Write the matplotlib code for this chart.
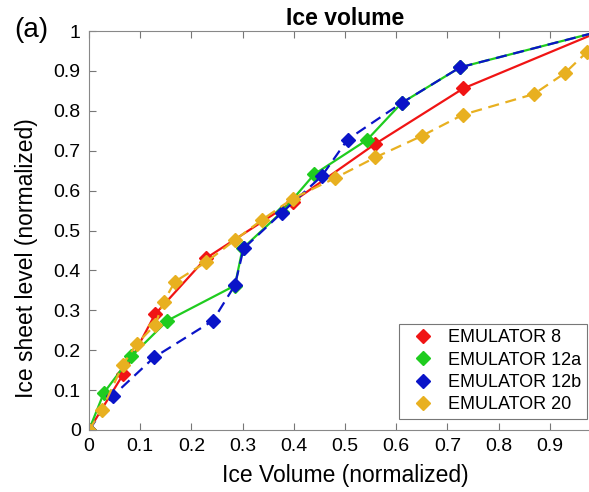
import matplotlib
matplotlib.use("Agg")
import matplotlib.pyplot as plt
from matplotlib.lines import Line2D

plt.rcParams["font.family"] = ["Liberation Sans", "DejaVu Sans"]

# values
em8_x = [0, 0.067, 0.129, 0.228, 0.398, 0.559, 0.731, 1.0]
em8_y = [0, 0.140, 0.290, 0.430, 0.572, 0.717, 0.856, 1.0]

em12a_x = [0, 0.029, 0.083, 0.153, 0.285, 0.300, 0.377, 0.440, 0.543, 0.611, 0.725, 1.0]
em12a_y = [0, 0.093, 0.185, 0.274, 0.362, 0.455, 0.547, 0.641, 0.727, 0.820, 0.909, 1.0]

em12b_x = [0, 0.047, 0.127, 0.242, 0.285, 0.302, 0.377, 0.455, 0.505, 0.611, 0.725, 1.0]
em12b_y = [0, 0.086, 0.182, 0.274, 0.363, 0.455, 0.545, 0.637, 0.728, 0.820, 0.909, 1.0]

em20_x = [0, 0.025, 0.066, 0.093, 0.129, 0.146, 0.168, 0.228, 0.285, 0.337,
          0.398, 0.480, 0.559, 0.650, 0.730, 0.869, 0.929, 0.973, 1.0]
em20_y = [0, 0.050, 0.163, 0.216, 0.263, 0.322, 0.372, 0.420, 0.476, 0.526,
          0.580, 0.631, 0.683, 0.737, 0.790, 0.842, 0.894, 0.948, 1.0]

series = [
    ("EMULATOR 8", em8_x, em8_y, "#f01414", "-"),
    ("EMULATOR 12a", em12a_x, em12a_y, "#1fcc1f", "-"),
    ("EMULATOR 12b", em12b_x, em12b_y, "#0a14c8", "--"),
    ("EMULATOR 20", em20_x, em20_y, "#e8b020", "--"),
]

fig = plt.figure(figsize=(5.89, 4.92), dpi=100)
# the original panel is cropped on the right, so the axes runs past the edge
ax = fig.add_axes([89 / 589, 62 / 492, 512 / 589, 399 / 492])

for lab, x, y, col, ls in series:
    ax.plot(x, y, ls, color=col, lw=1.6, marker="D", ms=7, mec=col, mfc=col,
            dashes=(5, 3) if ls == "--" else (None, None))

ax.set_xlim(0, 1)
ax.set_ylim(0, 1)
xticks = [i / 10 for i in range(10)]   # the "1" label lies beyond the crop
yticks = [i / 10 for i in range(11)]
ax.set_xticks(xticks)
ax.set_xticklabels(["0"] + [f"0.{i}" for i in range(1, 10)])
ax.set_yticks(yticks)
ax.set_yticklabels(["0"] + [f"0.{i}" for i in range(1, 10)] + ["1"])
ax.tick_params(direction="in", length=5, width=0.8, color="#777777",
               labelsize=14, top=True, right=False, pad=6)
for s in ["left", "bottom", "top"]:
    ax.spines[s].set_color("#888888")
    ax.spines[s].set_linewidth(0.8)
ax.spines["right"].set_visible(False)

ax.set_xlabel("Ice Volume (normalized)", fontsize=16.5, labelpad=6)
ax.set_ylabel("Ice sheet level (normalized)", fontsize=16.5)
ax.yaxis.set_label_coords(-(89 - 38) / 512, 0.43)
ax.set_title("Ice volume", fontsize=16.5, fontweight="bold", pad=4)
fig.text(14 / 589, 1 - 30 / 492, "(a)", fontsize=20, va="center", ha="left")

handles = [Line2D([0], [0], ls="none", marker="D", ms=7, color=c)
           for _, _, _, c, _ in series]
leg = ax.legend(handles, [s[0] for s in series], loc="lower right",
                fontsize=13, frameon=True, fancybox=False, handletextpad=0.4,
                borderpad=0.3, labelspacing=0.3, borderaxespad=0,
                bbox_to_anchor=(0.972, 0.028))
leg.get_frame().set_edgecolor("#555555")
leg.get_frame().set_linewidth(0.8)

fig.savefig("out.png", dpi=100)
